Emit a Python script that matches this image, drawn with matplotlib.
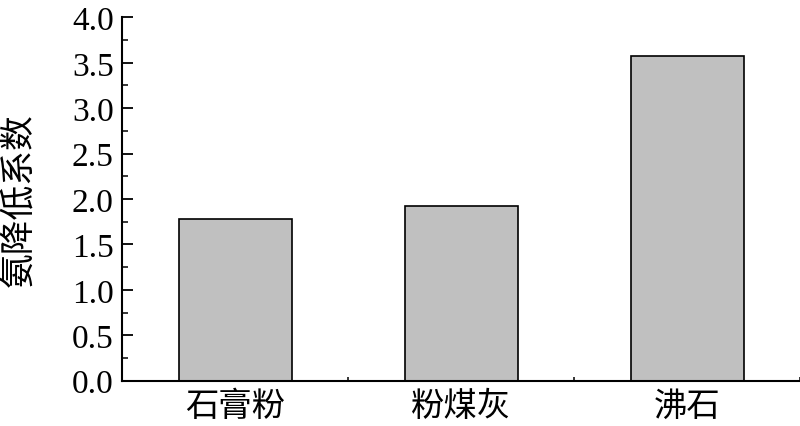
import matplotlib
matplotlib.use("Agg")
import matplotlib.pyplot as plt
from matplotlib.ticker import MultipleLocator

# data
materials = ["石膏粉", "粉煤灰", "沸石"]
reduction = [1.78, 1.92, 3.58]
y_ticks = [0.0, 0.5, 1.0, 1.5, 2.0, 2.5, 3.0, 3.5, 4.0]
y_label = "氨降低系数"

cjk = ["Noto Sans CJK SC", "DejaVu Sans"]
serif = ["Liberation Serif", "DejaVu Serif"]

fig = plt.figure(figsize=(8.0, 4.27), dpi=100)
ax = fig.add_axes([0.1525, 0.106, 0.8475, 0.851])

x = list(range(len(materials)))
ax.bar(x, reduction, width=0.5, color="#c0c0c0", edgecolor="black", linewidth=1.2, zorder=2)

ax.set_xlim(-0.5, 2.5)
ax.set_ylim(0, 4.0)
ax.set_yticks(y_ticks)
ax.set_yticklabels(["%.1f" % t for t in y_ticks], family=serif, fontsize=24)
ax.yaxis.set_minor_locator(MultipleLocator(0.25))
ax.set_xticks(x)
ax.set_xticklabels(materials, family=cjk, fontsize=24, fontweight="medium")
ax.xaxis.set_minor_locator(MultipleLocator(0.5))

ax.tick_params(axis="y", which="major", direction="in", length=8, width=1.3, pad=6)
ax.tick_params(axis="y", which="minor", direction="in", length=4, width=1.1)
ax.tick_params(axis="x", which="major", direction="in", length=5, width=1.3, pad=5)
ax.tick_params(axis="x", which="minor", direction="in", length=3, width=1.1)

ax.spines["top"].set_visible(False)
ax.spines["right"].set_visible(False)
ax.spines["left"].set_linewidth(1.5)
ax.spines["bottom"].set_linewidth(1.5)

ax.set_ylabel(y_label, family=cjk, fontsize=25, fontweight="medium")
ax.yaxis.set_label_coords(-0.125, 0.5)

fig.savefig("out.png", dpi=100)
